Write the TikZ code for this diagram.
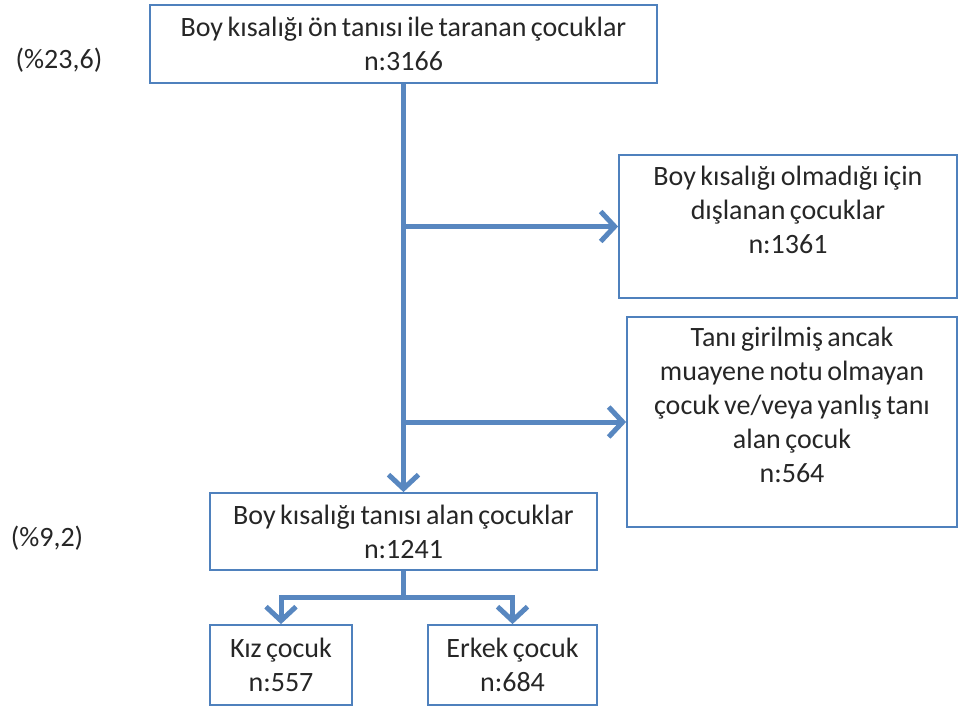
\documentclass[tikz,border=0pt]{standalone}
\usepackage{fontspec}
\setmainfont{Carlito}
\usetikzlibrary{arrows.meta}
\definecolor{kutumavi}{HTML}{4F81BD}
\newcommand\kutuyazi{\fontsize{28}{34}\selectfont\spaceskip=0.16em plus 0.05em\relax}
\begin{document}
\begin{tikzpicture}[x=1pt,y=-1pt,
	kutu/.style={draw=kutumavi,line width=1.8pt,align=center,inner sep=0pt,
		font=\kutuyazi,text=black!85},
	yuzde/.style={font=\kutuyazi,text=black!85},
	ok/.style={draw=kutumavi!95,line width=5pt,-{Straight Barb[length=14pt,width=30pt]}},
	]
	\useasboundingbox (0,0) rectangle (960,707);
	\path
	(403.5,44) node[kutu,minimum width=507,minimum height=78] (tara)
	{Boy kısalığı ön tanısı ile taranan çocuklar\\n:3166}        % <<< kutu 1
	(59,60) node[yuzde] (yuzdeA) {(\%23,6)}
	(788,226.5) node[kutu,minimum width=338,minimum height=143] (disla)
	{Boy kısalığı olmadığı için\\dışlanan çocuklar\\n:1361\\\mbox{}}  % <<< kutu 2
	(792,422) node[kutu,minimum width=330,minimum height=210] (yanlis)
	{Tanı girilmiş ancak\\muayene notu olmayan\\çocuk ve/veya yanlış tanı\\alan çocuk\\n:564\\\mbox{}}  % <<< kutu 3
	(403.5,531.5) node[kutu,minimum width=387,minimum height=77] (tani)
	{Boy kısalığı tanısı alan çocuklar\\n:1241}                  % <<< kutu 4
	(47,538) node[yuzde] (yuzdeB) {(\%9,2)}
	(281,665) node[kutu,minimum width=142,minimum height=80] (kiz)
	{Kız çocuk\\n:557}
	(512.5,665) node[kutu,minimum width=169,minimum height=80] (erkek)
	{Erkek çocuk\\n:684};
	\draw[ok] (tara.south) -- (tani.north);
	\draw[ok] (disla.west -| tara.south) -- (disla.west);
	\draw[ok] (yanlis.west -| tara.south) -- (yanlis.west);
	\draw[ok] (tani.south) -- ++(0,27) -| (kiz.north);
	\draw[ok] (tani.south) -- ++(0,27) -| (erkek.north);
\end{tikzpicture}
\end{document}
